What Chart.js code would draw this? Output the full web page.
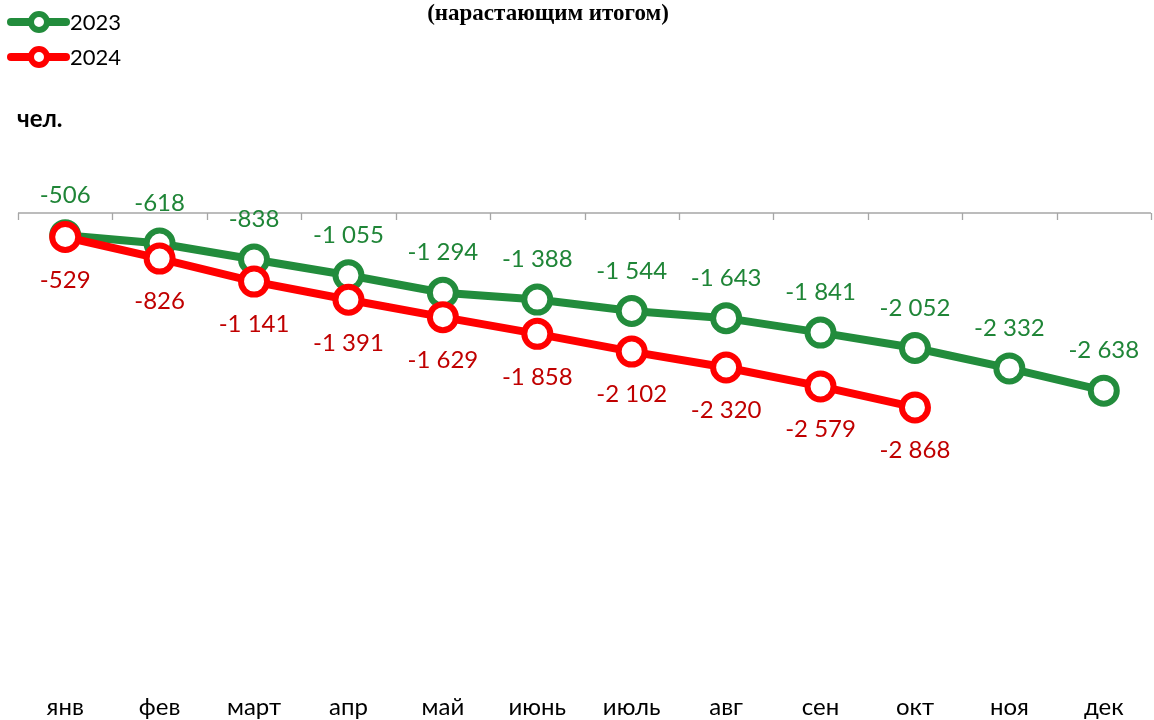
<!DOCTYPE html>
<html>
<head>
<meta charset="utf-8">
<script src="https://cdn.jsdelivr.net/npm/chart.js@4/dist/chart.umd.min.js"></script>
<style>
	html, body { margin: 0; padding: 0; background: #fff; overflow: hidden; }
	#wrap { width: 1154px; height: 720px; position: relative; }
	canvas { display: block; }
</style>
</head>
<body>
<div id="wrap"><canvas id="chartContainer" width="1154" height="720"></canvas></div>

<script>
// data
var months = ['янв', 'фев', 'март', 'апр', 'май', 'июнь', 'июль', 'авг', 'сен', 'окт', 'ноя', 'дек'];
var values2023 = [-506, -618, -838, -1055, -1294, -1388, -1544, -1643, -1841, -2052, -2332, -2638];
var values2024 = [-529, -826, -1141, -1391, -1629, -1858, -2102, -2320, -2579, -2868, null, null];
var seriesNames = ['2023', '2024'];

var GREEN = '#228C3C';
var GREEN_TEXT = '#1F8537';
var RED = '#FF0000';
var RED_TEXT = '#C00000';
var LABEL_FONT = '24px Lato';

var fmt = function(v){
	var s = Math.abs(v).toString().replace(/\B(?=(\d{3})+(?!\d))/g, ' ');
	return (v < 0 ? '-' : '') + s;
};

// top axis line, tick marks, value labels, legend, title
var decorations = {
	id: 'decorations',
	afterDatasetsDraw: function(chart){
		var ctx = chart.ctx;
		var area = chart.chartArea;
		var xs = chart.scales.x;

		ctx.save();
		ctx.strokeStyle = '#A6A6A6';
		ctx.lineWidth = 1.3;
		ctx.beginPath();
		ctx.moveTo(area.left, area.top);
		ctx.lineTo(area.right, area.top);
		for (var i = 0; i <= months.length; i++) {
			var bx = Math.round(xs.getPixelForValue(i - 0.5)) + 0.5;
			ctx.moveTo(bx, area.top);
			ctx.lineTo(bx, area.top + 7);
		}
		ctx.stroke();

		// value labels
		ctx.font = LABEL_FONT;
		ctx.textAlign = 'center';
		ctx.textBaseline = 'middle';
		chart.data.datasets.forEach(function(ds, k){
			var meta = chart.getDatasetMeta(k);
			meta.data.forEach(function(pt, i){
				var v = ds.data[i];
				if (v === null || v === undefined) return;
				ctx.fillStyle = ds.labelColor;
				ctx.fillText(fmt(v), pt.x, pt.y + ds.labelShift);
			});
		});

		// legend
		chart.data.datasets.forEach(function(ds, k){
			var ly = 22 + ds.legendRow * 35;
			ctx.strokeStyle = ds.borderColor;
			ctx.lineWidth = 8;
			ctx.lineCap = 'round';
			ctx.beginPath();
			ctx.moveTo(11, ly);
			ctx.lineTo(66, ly);
			ctx.stroke();
			ctx.lineWidth = 6;
			ctx.fillStyle = '#fff';
			ctx.beginPath();
			ctx.arc(39, ly, 8, 0, Math.PI * 2);
			ctx.fill();
			ctx.stroke();
			ctx.fillStyle = '#000';
			ctx.font = '22px Lato';
			ctx.textAlign = 'left';
			ctx.fillText(ds.label, 70, ly + 1);
		});

		ctx.fillStyle = '#000';
		ctx.font = 'bold 24px Lato';
		ctx.textAlign = 'left';
		ctx.fillText('чел.', 17, 119);

		ctx.font = 'bold 23px "Liberation Serif"';
		ctx.textAlign = 'center';
		ctx.fillText('(нарастающим итогом)', 548, 14);
		ctx.restore();
	}
};

var chart = new Chart(document.getElementById('chartContainer'), {
	type: 'line',
	data: {
		labels: months,
		datasets: [{
			label: seriesNames[0],
			data: values2023,
			borderColor: GREEN,
			backgroundColor: '#FFFFFF',
			borderWidth: 8,
			pointRadius: 13,
			pointBorderWidth: 6,
			pointBackgroundColor: '#FFFFFF',
			pointBorderColor: GREEN,
			order: 1,
			clip: false,
			labelColor: GREEN_TEXT,
			labelShift: -40,
			legendRow: 0
		}, {
			label: seriesNames[1],
			data: values2024,
			borderColor: RED,
			backgroundColor: '#FFFFFF',
			borderWidth: 8,
			pointRadius: 13,
			pointBorderWidth: 6,
			pointBackgroundColor: '#FFFFFF',
			pointBorderColor: RED,
			order: 0,
			clip: false,
			labelColor: RED_TEXT,
			labelShift: 43,
			legendRow: 1
		}]
	},
	options: {
		responsive: false,
		animation: false,
		devicePixelRatio: 1,
		layout: { autoPadding: false, padding: { top: 213, left: 18, right: 3, bottom: 0 } },
		plugins: {
			legend: { display: false },
			tooltip: { enabled: false }
		},
		scales: {
			x: {
				position: 'bottom',
				offset: true,
				grid: { display: false, drawTicks: false },
				border: { display: false },
				ticks: { color: '#000', font: { family: 'Lato', size: 24, lineHeight: 1 }, padding: 1, maxRotation: 0 }
			},
			y: {
				display: false,
				min: -6800,
				max: -200
			}
		}
	},
	plugins: [decorations]
});
</script>
</body>
</html>
